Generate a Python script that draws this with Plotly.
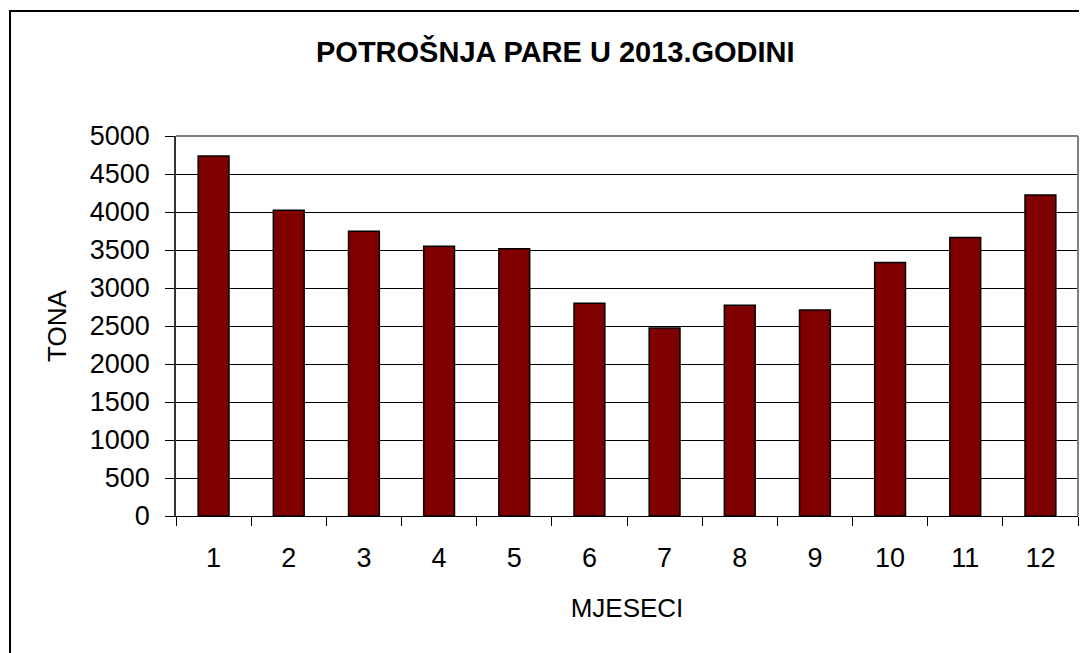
import plotly.graph_objects as go

months = ["1", "2", "3", "4", "5", "6", "7", "8", "9", "10", "11", "12"]
tons = [4737, 4022, 3746, 3549, 3518, 2799, 2474, 2772, 2711, 3334, 3663, 4224]
y_ticks = [0, 500, 1000, 1500, 2000, 2500, 3000, 3500, 4000, 4500, 5000]

FONT = "Liberation Sans, Arial, sans-serif"

fig = go.Figure(go.Bar(
    x=months, y=tons,
    marker=dict(color="#800000", line=dict(color="black", width=1.5)),
    width=0.41,
))

fig.update_layout(
    width=1079, height=645,
    margin=dict(l=168, r=9, t=128, b=137),
    paper_bgcolor="white", plot_bgcolor="white",
    showlegend=False,
    font=dict(family=FONT, size=27, color="black"),
    annotations=[dict(
        text="<b>POTROŠNJA PARE U 2013.GODINI</b>",
        xref="paper", yref="paper", x=(555 - 176) / 902, y=(516 - 52) / 380,
        xanchor="center", yanchor="middle", showarrow=False,
        font=dict(family=FONT, size=29, color="black"),
    )],
    shapes=[
        dict(type="rect", xref="paper", yref="paper",
             x0=(10 - 176) / 902, x1=1.03, y0=-0.5, y1=(516 - 11) / 380,
             line=dict(color="black", width=2), fillcolor="rgba(0,0,0,0)"),
        dict(type="line", xref="paper", yref="paper", x0=0, x1=1, y0=1, y1=1,
             line=dict(color="#808080", width=2)),
        dict(type="line", xref="paper", yref="paper", x0=1, x1=1, y0=0, y1=1,
             line=dict(color="#808080", width=2)),
    ],
)

fig.update_xaxes(
    type="category",
    showline=True, linecolor="black", linewidth=1,
    ticks="outside", ticklen=9, tickcolor="black", tickson="boundaries",
    ticklabelstandoff=18,
    tickfont=dict(family=FONT, size=27),
    showgrid=False,
    title=dict(text="MJESECI", font=dict(family=FONT, size=26), standoff=26),
)
fig.update_yaxes(
    range=[0, 5000], tickvals=y_ticks,
    showline=True, linecolor="#333333", linewidth=1.5,
    ticks="outside", ticklen=9, tickcolor="black",
    ticklabelstandoff=10,
    tickfont=dict(family=FONT, size=27),
    showgrid=True, gridcolor="black", gridwidth=1,
    zeroline=False,
    title=dict(text="TONA", font=dict(family=FONT, size=26), standoff=16),
)

fig.write_html("out.html")
